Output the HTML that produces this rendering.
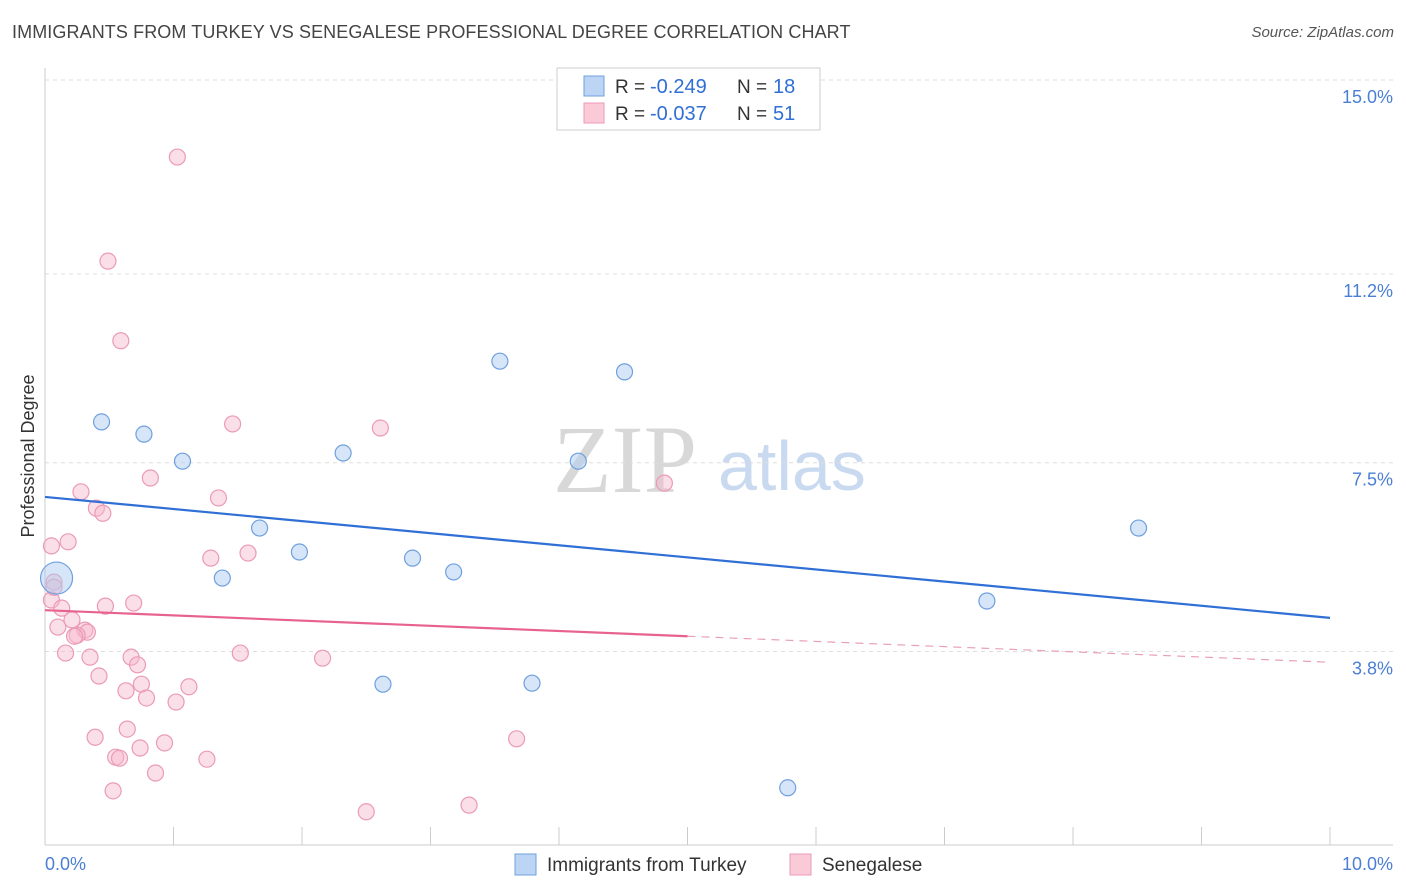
<!DOCTYPE html>
<html><head><meta charset="utf-8">
<style>
body{margin:0;background:#fff;font-family:"Liberation Sans",sans-serif;}
#wrap{position:relative;width:1406px;height:892px;overflow:hidden;}
.title{position:absolute;left:12px;top:22px;font-size:18px;color:#444;letter-spacing:0.1px}
.source{position:absolute;right:12px;top:24px;font-size:15px;color:#555;font-style:italic}
</style></head><body>
<div id="wrap">
<div class="title">IMMIGRANTS FROM TURKEY VS SENEGALESE PROFESSIONAL DEGREE CORRELATION CHART</div>
<div class="source">Source: ZipAtlas.com</div>
<svg id="chart" width="1406" height="892" style="position:absolute;left:0;top:0"></svg>
</div>
<script>
const yTicks=[15.0,11.2,7.5,3.8];
const yTickLabels=["15.0%","11.2%","7.5%","3.8%"];
const blueX=[0.09,0.44,0.77,1.07,1.38,1.67,1.98,2.32,2.63,2.86,3.18,3.54,3.79,4.15,4.51,5.78,7.33,8.51];
const blueY=[5.24,8.30,8.06,7.53,5.24,6.22,5.75,7.69,3.16,5.63,5.36,9.49,3.18,7.53,9.28,1.13,4.79,6.22];
const pinkX=[1.03,0.49,0.59,1.46,2.61,0.82,0.28,1.35,4.82,0.40,0.45,0.18,0.05,1.29,1.58,0.07,0.05,0.13,0.47,0.69,0.21,0.10,0.31,0.33,0.25,0.23,0.16,0.35,0.67,1.52,2.16,0.72,0.42,0.75,1.12,0.63,0.79,1.02,0.64,0.39,0.93,0.74,0.55,0.58,1.26,0.86,0.53,3.67,3.30,2.50,0.07];
const pinkY=[13.49,11.45,9.89,8.26,8.18,7.20,6.93,6.81,7.10,6.61,6.51,5.95,5.87,5.63,5.73,5.16,4.81,4.65,4.69,4.75,4.42,4.28,4.22,4.18,4.12,4.10,3.77,3.69,3.69,3.77,3.67,3.54,3.32,3.16,3.11,3.03,2.89,2.81,2.28,2.12,2.01,1.91,1.73,1.71,1.69,1.42,1.07,2.09,0.79,0.66,5.06];
const blueTrend=[6.83,4.46];
const pinkTrend=[4.61,3.59];
const pinkSolidEnd=5;
const X=v=>45+v*128.5, Y=v=>80+(15-v)*51.03;
const svg=document.getElementById('chart');
const NS='http://www.w3.org/2000/svg';
function mk(t,a,p){const e=document.createElementNS(NS,t);for(const k in a)e.setAttribute(k,a[k]);(p||svg).appendChild(e);return e;}
let wm=mk('text',{x:553,y:492,'font-size':96,'font-family':'Liberation Serif,serif',fill:'#d8d8d8'});wm.textContent='ZIP';


let wm2=mk('text',{x:718,y:490,'font-size':70,'font-family':'Liberation Sans,sans-serif',fill:'#c9daf0'});wm2.textContent='atlas';


yTicks.forEach((t,i)=>{
 const g=mk('line',{x1:45,x2:1393,y1:Y(t),y2:Y(t),stroke:'#ddd','stroke-dasharray':'4,4'});
 
 
 const l=mk('text',{x:1393,y:Y(t)+23,'text-anchor':'end','font-size':18,fill:'#4a7fd4'});l.textContent=yTickLabels[i];
 
 
});
let ax=mk('line',{x1:45,x2:45,y1:68,y2:845,stroke:'#ccc'});


let bx=mk('line',{x1:45,x2:1393,y1:845,y2:845,stroke:'#ccc'});


for(let i=1;i<=10;i++){const t=mk('line',{x1:X(i),x2:X(i),y1:827,y2:845,stroke:'#ccc'});
 
 }
let x0=mk('text',{x:45,y:870,'font-size':18,fill:'#4a7fd4'});x0.textContent='0.0%';


let x1=mk('text',{x:1393,y:870,'text-anchor':'end','font-size':18,fill:'#4a7fd4'});x1.textContent='10.0%';


let yt=mk('text',{x:34,y:456,'font-size':18,fill:'#333',transform:'rotate(-90 34 456)','text-anchor':'middle'});yt.textContent='Professional Degree';


pinkX.forEach((v,i)=>{const c=mk('circle',{cx:X(v),cy:Y(pinkY[i]),r:8,fill:'rgba(247,184,204,0.45)',stroke:'#eb9ab6','stroke-width':1.2});
 
 });
blueX.forEach((v,i)=>{const c=mk('circle',{cx:X(v),cy:Y(blueY[i]),r:i==0?16:8,fill:'rgba(174,203,240,0.5)',stroke:'#6fa0de','stroke-width':1.2});
 
 });
let bt=mk('line',{x1:X(0),y1:Y(blueTrend[0]),x2:X(10),y2:Y(blueTrend[1]),stroke:'#2f6fd6','stroke-width':2.2});


const pm=pinkTrend[0]+(pinkTrend[1]-pinkTrend[0])*pinkSolidEnd/10;
let pt=mk('line',{x1:X(0),y1:Y(pinkTrend[0]),x2:X(pinkSolidEnd),y2:Y(pm),stroke:'#e8628f','stroke-width':2.2});


let pd=mk('line',{x1:X(pinkSolidEnd),y1:Y(pm),x2:X(10),y2:Y(pinkTrend[1]),stroke:'#e8a0b8','stroke-width':1.2,'stroke-dasharray':'8,6'});


let lb=mk('rect',{x:557,y:68,width:263,height:62,fill:'#fff',stroke:'#ccc'});


[['-0.249','18','#bcd5f5','#6fa0de',86],['-0.037','51','#fbcad9','#eb9ab6',113]].forEach(r=>{
 const s=mk('rect',{x:584,y:r[4]-10,width:20,height:20,fill:r[2],stroke:r[3]});
 
 
 const a=mk('text',{x:615,y:r[4]+7,'font-size':19,fill:'#333'});a.textContent='R =';
 
 
 const b=mk('text',{x:650,y:r[4]+7,'font-size':20,fill:'#2f6fd6'});b.textContent=r[0];
 
 
 const c=mk('text',{x:737,y:r[4]+7,'font-size':19,fill:'#333'});c.textContent='N =';
 
 
 const d=mk('text',{x:773,y:r[4]+7,'font-size':20,fill:'#2f6fd6'});d.textContent=r[1];
 
 
});
[[515,'Immigrants from Turkey','#bcd5f5','#6fa0de'],[790,'Senegalese','#fbcad9','#eb9ab6']].forEach(r=>{
 const s=mk('rect',{x:r[0],y:854,width:21,height:21,fill:r[2],stroke:r[3]});
 
 
 const t=mk('text',{x:r[0]+32,y:871,'font-size':19,fill:'#333'});t.textContent=r[1];
 
 
});
</script>
</body></html>
